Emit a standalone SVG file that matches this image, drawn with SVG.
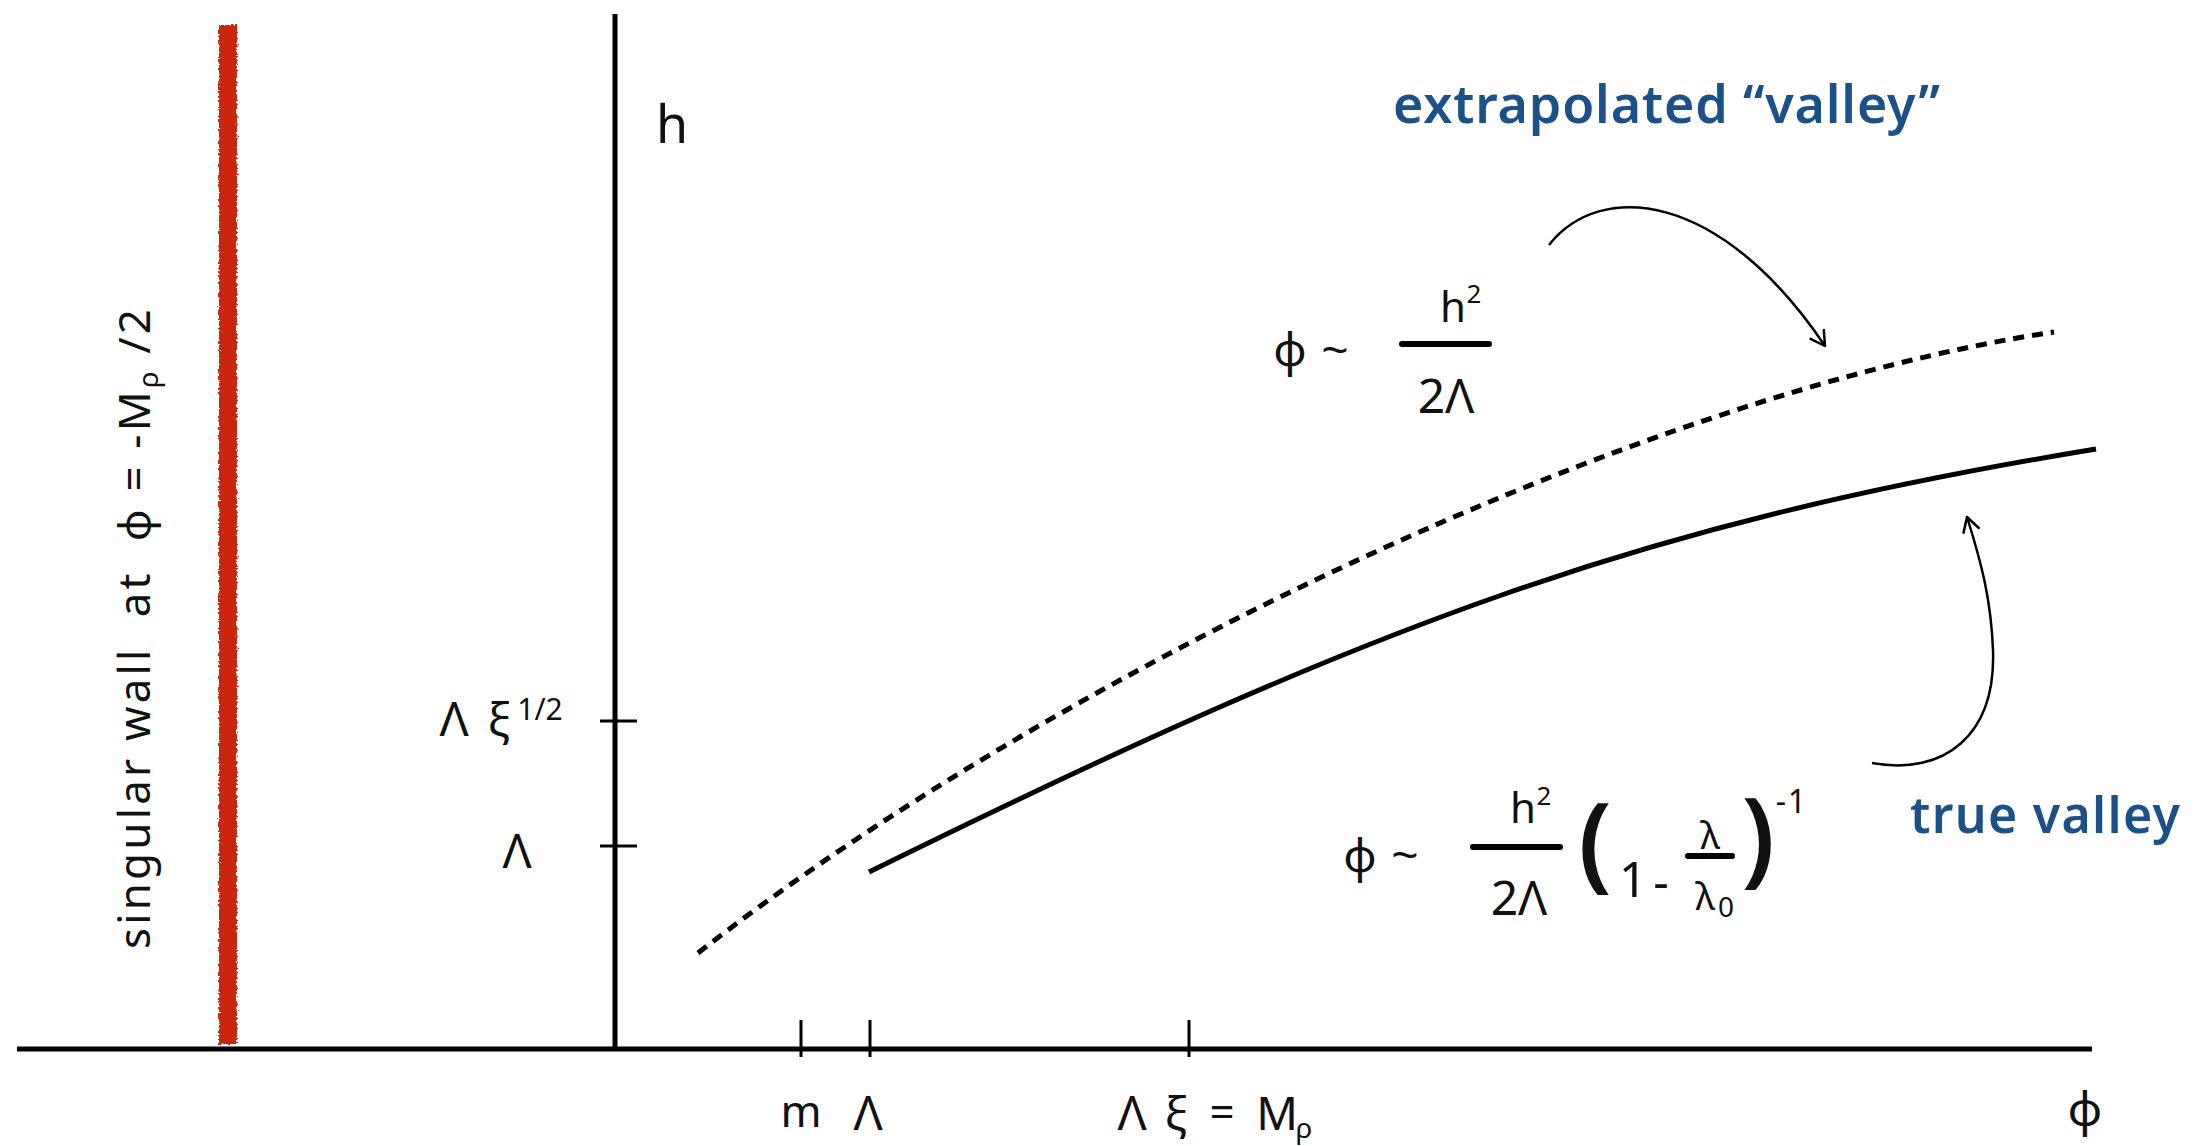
<svg xmlns="http://www.w3.org/2000/svg" width="2198" height="1146" viewBox="0 0 2198 1146">
<style>
  .t { font-family: "Noto Sans", "DejaVu Sans", sans-serif; fill: #111; }
  .sym { font-family: "Liberation Sans", "DejaVu Sans", sans-serif; fill: #111; }
  .blue { font-family: "Noto Sans", "DejaVu Sans", sans-serif; fill: #1b5088; font-weight: 600; }
  .axis { stroke: #000; stroke-width: 5; fill: none; }
  .tick { stroke: #000; stroke-width: 3; }
  .bar { stroke: #000; stroke-width: 6; stroke-linecap: round; }
  .curve { stroke: #000; stroke-width: 5; fill: none; }
  .dashed { stroke: #000; stroke-width: 5; fill: none; stroke-dasharray: 11 8; }
  .arrow { stroke: #000; stroke-width: 2.5; fill: none; marker-end: url(#open); }
</style>
<defs>
  <marker id="open" markerWidth="24" markerHeight="24" refX="18" refY="12" orient="auto" markerUnits="userSpaceOnUse">
    <path d="M4,4 L18,12 L4,20" fill="none" stroke="#000" stroke-width="2.5" stroke-linecap="round" stroke-linejoin="round"/>
  </marker>
  <filter id="rough" x="-50%" y="-2%" width="200%" height="104%">
    <feTurbulence type="fractalNoise" baseFrequency="0.5" numOctaves="2" seed="3" result="n"/>
    <feDisplacementMap in="SourceGraphic" in2="n" scale="6" xChannelSelector="R" yChannelSelector="G"/>
  </filter>
</defs>

<g id="wall">
  <rect x="219" y="25" width="18" height="1019" fill="#c9260b" filter="url(#rough)"/>
  <text class="t" xml:space="preserve" transform="translate(150,629) rotate(-90)" text-anchor="middle" font-size="44" textLength="640">singular wall  at  φ = -M<tspan font-size="28" dy="8">ρ</tspan><tspan dy="-8"> /2</tspan></text>
</g>

<g id="axes">
  <line class="axis" x1="17" y1="1049" x2="2092" y2="1049"/>
  <line class="axis" x1="615" y1="14" x2="615" y2="1051"/>
  <line class="tick" x1="600" y1="721" x2="637" y2="721"/>
  <line class="tick" x1="600" y1="846" x2="637" y2="846"/>
  <line class="tick" x1="801" y1="1020" x2="801" y2="1057"/>
  <line class="tick" x1="870" y1="1020" x2="870" y2="1057"/>
  <line class="tick" x1="1189" y1="1020" x2="1189" y2="1057"/>
</g>

<g id="axis-labels">
  <text class="t" x="672" y="143" font-size="52" text-anchor="middle">h</text>
  <text class="t" x="517" y="868" font-size="48" text-anchor="middle">Λ</text>
  <text class="t" x="454" y="736" font-size="48" text-anchor="middle">Λ</text>
  <text class="t" x="499" y="736" font-size="46" text-anchor="middle">ξ</text>
  <text class="t" x="540" y="720" font-size="30" text-anchor="middle">1/2</text>
  <text class="t" x="801" y="1127" font-size="44" text-anchor="middle">m</text>
  <text class="t" x="868" y="1130" font-size="48" text-anchor="middle">Λ</text>
  <text class="t" x="1132" y="1130" font-size="48" text-anchor="middle">Λ</text>
  <text class="t" x="1176" y="1130" font-size="46" text-anchor="middle">ξ</text>
  <text class="t" x="1222" y="1128" font-size="44" text-anchor="middle">=</text>
  <text class="t" x="1277" y="1130" font-size="46" text-anchor="middle">M</text>
  <text class="t" x="1304" y="1138" font-size="28" text-anchor="middle">ρ</text>
  <text class="t" x="2085" y="1126" font-size="48" text-anchor="middle">φ</text>
</g>

<g id="curves">
  <path id="extrapolated-valley-curve" class="dashed" d="M698,953 C1048,680 1634,395 2054,332"/>
  <path id="true-valley-curve" class="curve" d="M869,872 C1380,620 1646,523 2096,449"/>
</g>

<g id="formula-extrapolated">
  <text class="t" x="1290" y="366" font-size="46" text-anchor="middle">φ</text>
  <text class="sym" x="1335" y="366" font-size="46" text-anchor="middle">~</text>
  <line class="bar" x1="1402" y1="344" x2="1489" y2="344"/>
  <text class="t" x="1453" y="322" font-size="42" text-anchor="middle">h</text>
  <text class="t" x="1474" y="303" font-size="26" text-anchor="middle">2</text>
  <text class="t" x="1446" y="413" font-size="48" text-anchor="middle">2Λ</text>
</g>

<g id="formula-true">
  <text class="t" x="1360" y="872" font-size="46" text-anchor="middle">φ</text>
  <text class="sym" x="1405" y="871" font-size="46" text-anchor="middle">~</text>
  <line class="bar" x1="1473" y1="847" x2="1560" y2="847"/>
  <text class="t" x="1523" y="823" font-size="42" text-anchor="middle">h</text>
  <text class="t" x="1544" y="805" font-size="26" text-anchor="middle">2</text>
  <text class="t" x="1519" y="915" font-size="48" text-anchor="middle">2Λ</text>
  <text class="t" x="1595" y="878" font-size="104" font-weight="600" text-anchor="middle">(</text>
  <text class="t" x="1633" y="897" font-size="50" text-anchor="middle">1</text>
  <text class="t" x="1661" y="899" font-size="48" text-anchor="middle">-</text>
  <line class="bar" x1="1688" y1="856" x2="1732" y2="856"/>
  <text class="t" x="1710" y="849" font-size="38" text-anchor="middle">λ</text>
  <text class="t" x="1705" y="910" font-size="38" text-anchor="middle">λ</text>
  <text class="t" x="1726" y="917" font-size="28" text-anchor="middle">0</text>
  <text class="t" x="1758" y="873" font-size="104" font-weight="600" text-anchor="middle">)</text>
  <text class="t" x="1781" y="813" font-size="32" text-anchor="middle">-</text>
  <text class="t" x="1797" y="813" font-size="32" text-anchor="middle">1</text>
</g>

<g id="label-extrapolated">
  <text class="blue" x="1393" y="123" font-size="52" textLength="547">extrapolated “valley”</text>
</g>
<g id="label-true">
  <text class="blue" x="1910" y="833" font-size="50" textLength="270">true valley</text>
</g>

<g id="connectors">
  <path class="arrow" d="M1549,245 C1600,180 1720,190 1825,346"/>
  <path class="arrow" d="M1872,763 C1945,776 1996,735 1993,650 C1991,600 1982,565 1967,517"/>
</g>
</svg>
